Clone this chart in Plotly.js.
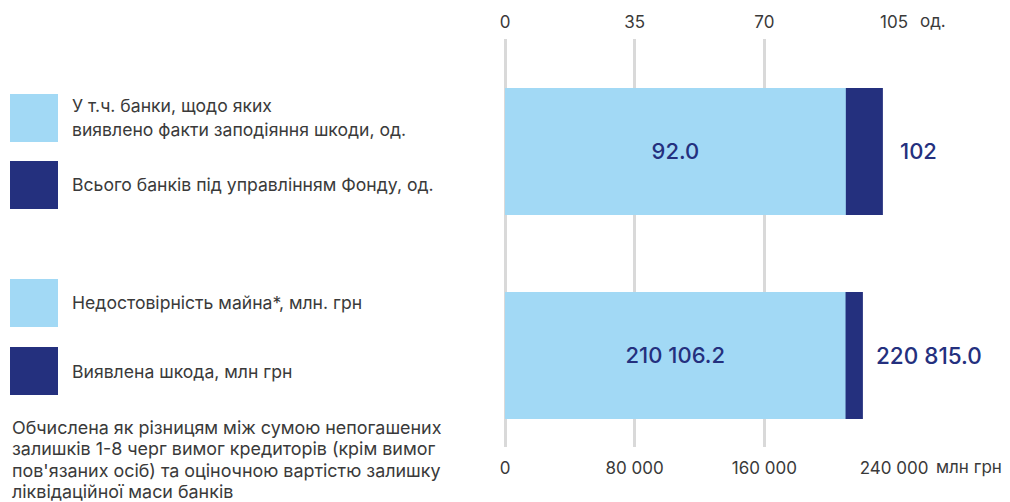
<!DOCTYPE html>
<html>
<head>
<meta charset="utf-8">
<script src="https://cdn.plot.ly/plotly-3.0.1.min.js"></script>
<style>html,body{margin:0;padding:0;background:#fff;}#chart{width:1010px;height:502px;}</style>
</head>
<body>
<div id="chart"></div>
<script>
// ---- data ----
const categories = ['Банки', 'Шкода'];
const banksTotal = [102];          // Всього банків під управлінням Фонду, од.
const banksDamaged = [92.0];       // У т.ч. банки, щодо яких виявлено факти заподіяння шкоди, од.
const damageTotal = [220815.0];    // Виявлена шкода, млн грн
const assetsUnreliable = [210106.2]; // Недостовірність майна*, млн грн
const topTicks = [0, 35, 70, 105];
const bottomTicks = [0, 80000, 160000, 240000];
const topUnit = 'од.';
const bottomUnit = 'млн грн';
const legendLabels = [
  ['У т.ч. банки, щодо яких', 'виявлено факти заподіяння шкоди, од.'],
  ['Всього банків під управлінням Фонду, од.'],
  ['Недостовірність майна*, млн. грн'],
  ['Виявлена шкода, млн грн']
];
const footnoteLines = [
  'Обчислена як різницям між сумою непогашених',
  'залишків 1-8 черг вимог кредиторів (крім вимог',
  'пов\'язаних осіб) та оціночною вартістю залишку',
  'ліквідаційної маси банків'
];

// ---- style ----
const LIGHT = '#a2d9f5';
const NAVY = '#24307e';
const TEXT = '#3a3a3a';
const GRID = '#d9d9d9';
const FONT = 'Inter, "Open Sans", sans-serif';

const W = 1010, H = 502;
const M = {l: 505, r: 116, t: 39, b: 55};
const PW = W - M.l - M.r, PH = H - M.t - M.b;
const px = x => (x - M.l) / PW;
const py = y => (H - M.b - y) / PH;

function fmt(v, dec) {
  const s = v.toFixed(dec);
  const parts = s.split('.');
  parts[0] = parts[0].replace(/\B(?=(\d{3})+(?!\d))/g, ' ');
  return parts.join('.');
}

const barW = 0.6225;
const traces = [
  {type: 'bar', orientation: 'h', y: [categories[0]], x: banksTotal, xaxis: 'x2', yaxis: 'y',
   marker: {color: NAVY}, width: barW, hoverinfo: 'skip', showlegend: false},
  {type: 'bar', orientation: 'h', y: [categories[0]], x: banksDamaged, xaxis: 'x2', yaxis: 'y',
   marker: {color: LIGHT}, width: barW, texttemplate: '%{x:.1f}', textposition: 'inside',
   insidetextanchor: 'middle', textangle: 0, constraintext: 'none',
   textfont: {family: FONT, size: 22, color: NAVY, weight: 500}, hoverinfo: 'skip', showlegend: false},
  {type: 'bar', orientation: 'h', y: [categories[1]], x: damageTotal, xaxis: 'x', yaxis: 'y',
   marker: {color: NAVY}, width: barW, hoverinfo: 'skip', showlegend: false},
  {type: 'bar', orientation: 'h', y: [categories[1]], x: assetsUnreliable, xaxis: 'x', yaxis: 'y',
   marker: {color: LIGHT}, width: barW, texttemplate: '%{x:,.1f}', textposition: 'inside',
   insidetextanchor: 'middle', textangle: 0, constraintext: 'none',
   textfont: {family: FONT, size: 22, color: NAVY, weight: 500}, hoverinfo: 'skip', showlegend: false}
];

const annotations = [];
const shapes = [];
// total labels
annotations.push({xref: 'x2', yref: 'y', x: banksTotal[0], y: categories[0], text: fmt(banksTotal[0], 0),
  xanchor: 'left', yanchor: 'middle', xshift: 15, showarrow: false,
  font: {family: FONT, size: 22, color: NAVY, weight: 500}});
annotations.push({xref: 'x', yref: 'y', x: damageTotal[0], y: categories[1], text: fmt(damageTotal[0], 1),
  xanchor: 'left', yanchor: 'middle', xshift: 11, showarrow: false,
  font: {family: FONT, size: 22.5, color: NAVY, weight: 500}});
// units
annotations.push({xref: 'paper', yref: 'paper', x: px(918), y: py(21), text: topUnit, xanchor: 'left',
  yanchor: 'middle', showarrow: false, font: {family: FONT, size: 17, color: TEXT}});
annotations.push({xref: 'paper', yref: 'paper', x: px(934), y: py(467), text: bottomUnit, xanchor: 'left',
  yanchor: 'middle', showarrow: false, font: {family: FONT, size: 17, color: TEXT}});

// legend boxes & labels
const boxTops = [94, 161, 279, 347];
const boxColors = [LIGHT, NAVY, LIGHT, NAVY];
const labelYs = [[106, 129], [185], [303], [371]];
boxTops.forEach((t, i) => {
  shapes.push({type: 'rect', xref: 'paper', yref: 'paper', x0: px(10), x1: px(58), y0: py(t), y1: py(t + 48),
    fillcolor: boxColors[i], line: {width: 0}});
  legendLabels[i].forEach((line, j) => {
    annotations.push({xref: 'paper', yref: 'paper', x: px(70), y: py(labelYs[i][j]), text: line,
      xanchor: 'left', yanchor: 'middle', showarrow: false, font: {family: FONT, size: 17.6, color: TEXT}});
  });
});
// footnote
const footYs = [427, 448.5, 470, 491];
footnoteLines.forEach((line, j) => {
  annotations.push({xref: 'paper', yref: 'paper', x: px(10), y: py(footYs[j]), text: line,
    xanchor: 'left', yanchor: 'middle', showarrow: false, font: {family: FONT, size: 17.9, color: TEXT}});
});

const layout = {
  width: W, height: H,
  margin: M,
  paper_bgcolor: '#fff', plot_bgcolor: '#fff',
  separators: '. ',
  barmode: 'overlay',
  showlegend: false,
  hovermode: false,
  font: {family: FONT, size: 17, color: TEXT},
  xaxis: {range: [0, 240000], tickvals: bottomTicks, tickformat: ',d', side: 'bottom',
    showgrid: true, gridcolor: GRID, gridwidth: 3, zeroline: true, zerolinecolor: GRID, zerolinewidth: 3,
    showline: false, ticks: '', ticklabelstandoff: 9, tickfont: {family: FONT, size: 17, color: TEXT}, fixedrange: true},
  xaxis2: {range: [0, 105], tickvals: topTicks, overlaying: 'x', side: 'top', showgrid: false,
    zeroline: false, showline: false, ticks: '', ticklabelstandoff: 7,
    tickfont: {family: FONT, size: 17, color: TEXT}, fixedrange: true},
  yaxis: {type: 'category', categoryorder: 'array', categoryarray: categories,
    range: [1.449, -0.551], showticklabels: false, showgrid: false, zeroline: false, showline: false,
    ticks: '', fixedrange: true},
  annotations: annotations,
  shapes: shapes
};

Plotly.newPlot('chart', traces, layout, {displayModeBar: false, staticPlot: true});
</script>
</body>
</html>
